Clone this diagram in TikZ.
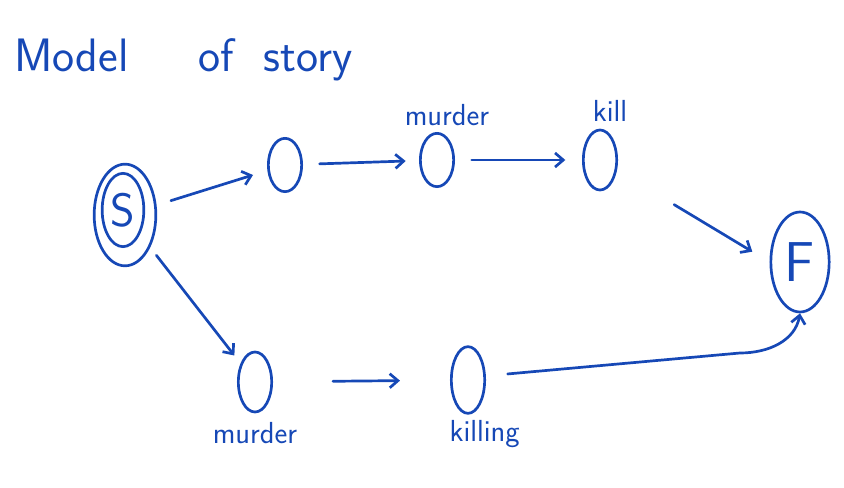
\documentclass[tikz,border=0pt]{standalone}
\usepackage{xcolor}
\usepackage{tikz}
\usetikzlibrary{shapes.geometric,arrows.meta,positioning}

\definecolor{pen}{RGB}{22,72,182}

\begin{document}
\begin{tikzpicture}[x=0.03cm, y=-0.03cm,
    every node/.style={text=pen, font=\sffamily},
    state/.style={ellipse, draw=pen, line width=2.3pt, minimum width=1.0cm, minimum height=1.6cm, inner sep=0pt},
    endstate/.style={state, minimum width=1.75cm, minimum height=3.0cm, font=\sffamily\fontsize{48}{50}\selectfont},
    word/.style={font=\sffamily\fontsize{26}{28}\selectfont},
    arrow/.style={-{Straight Barb[length=7pt, width=12pt]}, draw=pen, line width=2.3pt, line cap=round}
]
\useasboundingbox (0,0) rectangle (844,488);

\node (title) [anchor=west, font=\sffamily\fontsize{40}{42}\selectfont] at (10,60) {Model\hspace{2.1cm}of\hspace{0.9cm}story};

% start state, drawn twice
\node (start) [endstate, minimum width=1.85cm, minimum height=3.05cm] at (125,215) {};
\node (startin) [state, minimum width=1.25cm, minimum height=2.2cm, font=\sffamily\fontsize{40}{42}\selectfont] at (123,210) {S};

% upper path
\node (up1) [state] at (285,165) {};
\node (up2) [state] at (437,160) {};
\node (up3) [state, minimum height=1.8cm] at (600,160) {};
\node (lab2) [word, above=0.05cm of up2, xshift=0.3cm] {murder};
\node (lab3) [word, above=0.1cm of up3, xshift=0.3cm] {kill};

% final state
\node (final) [endstate] at (800,262) {F};

% lower path
\node (low1) [state, minimum height=1.8cm] at (255,382) {};
\node (low2) [state, minimum height=2.0cm] at (468,380) {};
\node (lab4) [word, below=0.15cm of low1] {murder};
\node (lab5) [word, below=0.05cm of low2, xshift=0.5cm] {killing};

\draw [arrow, shorten <=0.45cm, shorten >=0.45cm] (start) -- (up1);
\draw [arrow, shorten <=0.5cm, shorten >=0.4cm] (up1) -- (up2);
\draw [arrow, shorten <=0.5cm, shorten >=0.5cm] (up2) -- (up3);
\draw [arrow, shorten <=2.0cm, shorten >=0.6cm] (up3) -- (final.west);
\draw [arrow, shorten <=0.3cm, shorten >=0.3cm] (start) -- (low1);
\draw [arrow, shorten <=1.8cm, shorten >=1.5cm] (low1) -- (low2);
\draw [arrow, shorten <=0.35cm] (low2.east) ++(0.3cm,-5) coordinate (from)
    (from) -- (740,353) to[out=0, in=-100] (final.south);
\end{tikzpicture}
\end{document}
